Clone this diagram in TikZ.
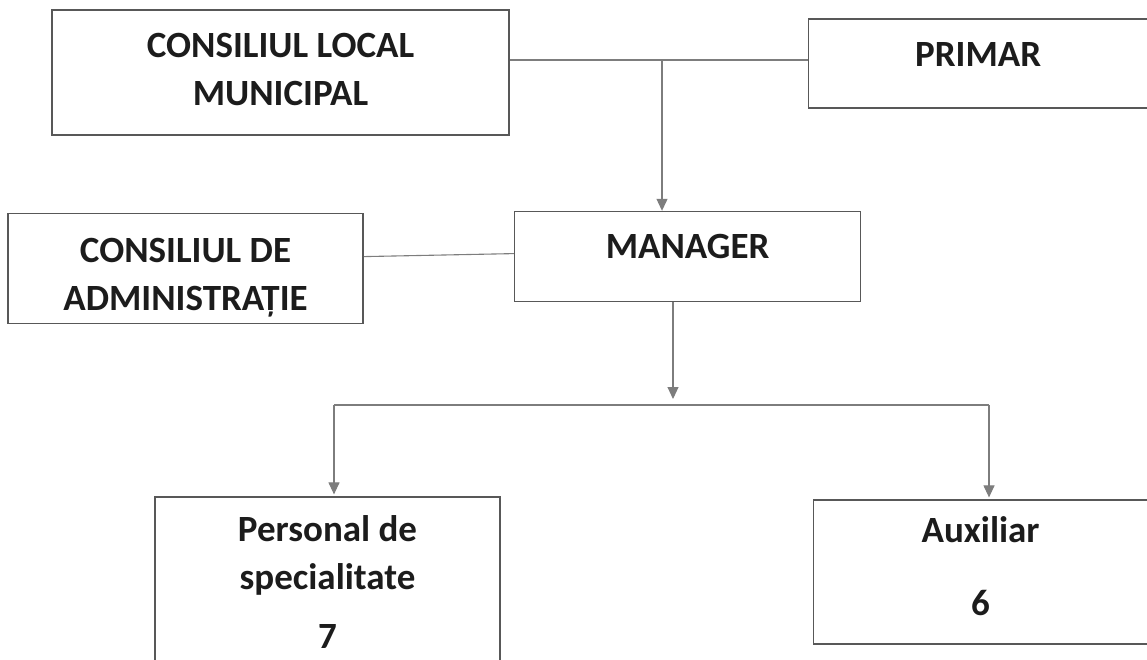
\documentclass[tikz,border=0pt]{standalone}
\usepackage{fontspec}
\setmainfont{Carlito}
\usetikzlibrary{positioning,arrows.meta}
\definecolor{boxColor}{RGB}{88,88,88}
\definecolor{linkColor}{RGB}{125,125,125}
\definecolor{textColor}{RGB}{28,28,28}

\begin{document}
\begin{tikzpicture}[x=1pt,y=-1pt]
  	\tikzstyle{unit} = [rectangle,draw=boxColor,line width=1.6pt,inner sep=0pt]
  	\tikzstyle{caption} = [align=center,inner sep=0pt,text=textColor,font=\bfseries\fontsize{37}{48}\selectfont]
  	\tikzstyle{link} = [draw=linkColor,line width=1.1pt]
  	\tikzset{>={Triangle[width=11pt,length=12pt]}}

	  \useasboundingbox (0,0) rectangle (1147,660);

	  \node [unit, minimum width=457pt, minimum height=125pt] (cl) at (280.5,72.5) {};
	  \node [unit, minimum width=339pt, minimum height=89pt, below right=9pt and 298pt of cl.north east] (primar) {};
	  \node [unit, minimum width=346pt, minimum height=90pt, below right=75pt and 4pt of cl.south east] (mgr) {};
	  \node [unit, minimum width=355pt, minimum height=110pt, below left=2pt and 150pt of mgr.north west] (adm) {};
	  \node [unit, minimum width=345pt, minimum height=164pt, below right=172pt and 147pt of adm.south west] (pers) {};
	  \node [unit, minimum width=334pt, minimum height=144pt, below right=3pt and 312pt of pers.north east] (aux) {};

	  % texts sit at the top of each box
	  \node [caption, below=24pt of cl.north] (clText) {CONSILIUL LOCAL\\MUNICIPAL};
	  \node [caption, below=24pt of primar.north] (primarText) {PRIMAR};
	  \node [caption, below=23pt of mgr.north] (mgrText) {MANAGER};
	  \node [caption, below=25pt of adm.north] (admText) {CONSILIUL DE\\ADMINISTRAȚIE};
	  \node [caption, below=19pt of pers.north] (persText) {Personal de\\specialitate\\[11pt]7};
	  \node [caption, below=17pt of aux.north] (auxText) {Auxiliar\\[25pt]6};

	  \coordinate (jn) at (662,60);
	  \coordinate (split) at (673,405);
	  \coordinate (brL) at (334,405);
	  \coordinate (brR) at (989,405);

		\draw [link] (cl.east |- jn) -- (primar.west |- jn);
		\draw [link,->] (jn) -- (jn |- mgr.north);
		\draw [link] ([yshift=12pt]adm.east) -- ([yshift=3pt]mgr.west);
		\draw [link,->] (mgr.south -| split) -- ([yshift=6pt]split);
		\draw [link] (brL) -- (brR);
		\draw [link,->,shorten >=2pt] (brL) -- (brL |- pers.north);
		\draw [link,->,shorten >=2pt] (brR) -- (brR |- aux.north);
  \end{tikzpicture}
\end{document}
